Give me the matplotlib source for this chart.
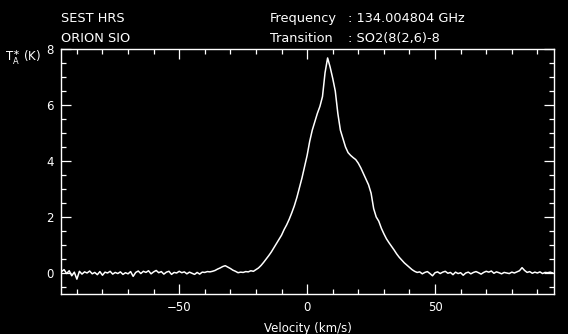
import numpy as np
import matplotlib
matplotlib.use("Agg")
import matplotlib.pyplot as plt
from matplotlib.ticker import MultipleLocator

# header lines
telescope = "SEST HRS"
source = "ORION SIO"
freq_label, freq_value = "Frequency", ": 134.004804 GHz"
trans_label, trans_value = "Transition", ": SO2(8(2,6)-8"

# channel velocities (km/s), 1 km/s spacing
v_first, v_last = -96, 96

# antenna temperature per channel (K)
ta_left = [0.05, 0.12, -0.02, 0.08, -0.10, 0.03, -0.22, 0.06, -0.04, 0.04,
           0.00, 0.07, -0.03, 0.02, -0.06, 0.05, -0.08, 0.03, 0.00, 0.06,
           -0.04, 0.02, -0.02, 0.04, -0.05, 0.01, -0.03, 0.05, -0.12, 0.02,
           0.07, -0.02, 0.06, 0.02, 0.08, -0.03, 0.04, 0.09, 0.01, 0.05,
           -0.04, 0.03, 0.06, -0.05, 0.02, 0.00, 0.06, 0.01, 0.04, -0.03,
           0.03, -0.01, -0.05, 0.02, -0.04, 0.03, 0.02]            # -96 .. -40
ta_line = [0.05, 0.04, 0.06, 0.09, 0.14, 0.18, 0.23, 0.26, 0.21, 0.16,   # -39 .. -30
           0.10, 0.06, 0.01, 0.03, 0.02, 0.05, 0.04, 0.08, 0.06, 0.12,   # -29 .. -20
           0.18, 0.27, 0.38, 0.50, 0.62, 0.75, 0.90, 1.05, 1.20, 1.35,   # -19 .. -10
           1.55, 1.72, 1.92, 2.15, 2.40, 2.70, 3.05, 3.40, 3.80, 4.20,   # -9 .. 0
           4.70, 5.10, 5.40, 5.70, 5.95, 6.30, 7.15, 7.68, 7.35, 6.95,   # 1 .. 10
           6.50, 5.70, 5.10, 4.80, 4.50, 4.30, 4.20, 4.12, 4.05, 3.92,   # 11 .. 20
           3.75, 3.55, 3.35, 3.15, 2.85, 2.30, 2.00, 1.85, 1.60, 1.40,   # 21 .. 30
           1.22, 1.08, 0.95, 0.82, 0.68, 0.56, 0.46, 0.36, 0.28, 0.20,   # 31 .. 40
           0.12, 0.06, 0.02, 0.04]                                        # 41 .. 44
ta_right = [-0.03, 0.02, 0.05, -0.02, -0.10, 0.01, 0.04, -0.02, 0.03, 0.06,
            -0.01, 0.02, -0.06, 0.03, -0.02, 0.01, -0.08, 0.00, 0.03, -0.03,
            0.02, 0.05, 0.01, -0.04, 0.02, 0.06, 0.03, 0.07, -0.01, 0.04,
            0.01, -0.03, 0.02, 0.00, -0.02, 0.03, 0.00, 0.04, 0.08, 0.19,
            0.09, 0.02, 0.05, -0.01, 0.03, 0.00, 0.04, -0.02, 0.02, 0.01,
            0.03, 0.00]                                                 # 45 .. 96

ta = np.array(ta_left + ta_line + ta_right)
vel = np.arange(v_first, v_last + 1)

fg = "white"
plt.rcParams["font.family"] = "DejaVu Sans"
plt.rcParams["font.size"] = 8.5

fig = plt.figure(figsize=(5.68, 3.34), dpi=100, facecolor="black")
ax = fig.add_axes([0.1074, 0.1198, 0.868, 0.7335], facecolor="black")

ax.plot(vel, ta, color=fg, lw=1.1)

ax.set_xlim(-96.2, 96.5)
ax.set_ylim(-0.75, 8.0)
ax.xaxis.set_major_locator(MultipleLocator(50))
ax.xaxis.set_minor_locator(MultipleLocator(10))
ax.yaxis.set_major_locator(MultipleLocator(2))
ax.yaxis.set_minor_locator(MultipleLocator(0.5))
ax.tick_params(which="both", direction="in", top=True, right=True,
               colors=fg, width=0.9)
ax.tick_params(which="major", length=7, pad=5)
ax.tick_params(which="minor", length=3.5)
for s in ax.spines.values():
    s.set_color(fg)
    s.set_linewidth(1.0)

ax.set_xlabel("Velocity (km/s)", color=fg, labelpad=6)

fig.text(0.009, 0.82, r"T$_{\rm A}^{\ast}$ (K)", color=fg, fontsize=8.5)
fig.text(0.107, 0.945, telescope, color=fg, fontsize=9.3, va="center")
fig.text(0.107, 0.885, source, color=fg, fontsize=9.3, va="center")
fig.text(0.475, 0.945, freq_label, color=fg, fontsize=9.3, va="center")
fig.text(0.612, 0.945, freq_value, color=fg, fontsize=9.3, va="center")
fig.text(0.475, 0.885, trans_label, color=fg, fontsize=9.3, va="center")
fig.text(0.612, 0.885, trans_value, color=fg, fontsize=9.3, va="center")

fig.savefig("out.png", dpi=100, facecolor="black")
